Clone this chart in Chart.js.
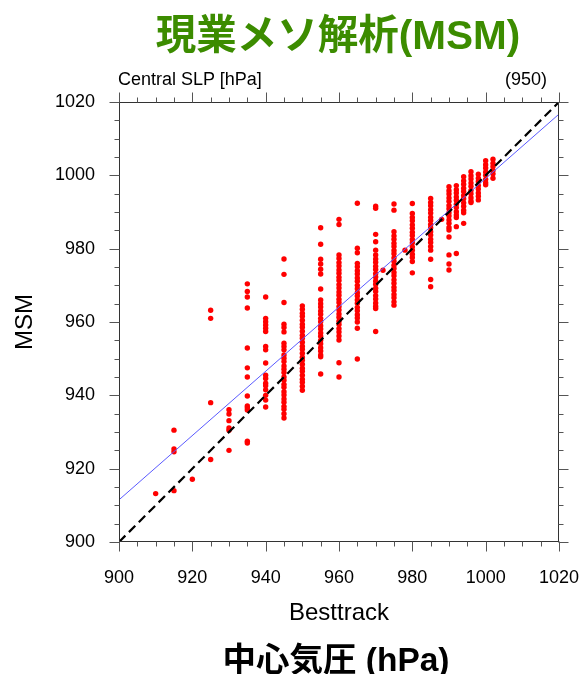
<!DOCTYPE html>
<html>
<head>
<meta charset="utf-8">
<script src="https://cdn.jsdelivr.net/npm/chart.js@4.4.1/dist/chart.umd.min.js"></script>
<style>
  html, body { margin: 0; padding: 0; background: #fff; }
  #wrap { position: relative; width: 582px; height: 674px; overflow: hidden; }
  #c { position: absolute; left: 0; top: 0; }
  .t { position: absolute; white-space: nowrap; line-height: 1; }
  #title { left: 0; width: 676px; text-align: center; top: 2px; font: bold 40.5px "Liberation Sans", "Noto Sans CJK JP", sans-serif; color: #3c8c00; }
  #bottom { left: 0; width: 672px; text-align: center; top: 632px; font: bold 33.5px "Liberation Sans", "Noto Sans CJK JP", sans-serif; color: #000; }
  #left { left: 118px; top: 69px; font: 18px "Liberation Sans", sans-serif; color: #000; }
  #right { right: 35px; top: 69px; font: 18px "Liberation Sans", sans-serif; color: #000; }
</style>
</head>
<body>
<div id="wrap">
  <canvas id="c" width="582" height="674"></canvas>
  <div class="t" id="title">現業メソ解析(MSM)</div>
  <div class="t" id="left">Central SLP [hPa]</div>
  <div class="t" id="right">(950)</div>
  <div class="t" id="bottom">中心気圧 (hPa)</div>
</div>
<script>
// ---- data ----
const besttrack = [910, 915, 920, 925, 930, 935, 940, 945, 950, 955, 960, 965, 970, 972, 975, 978, 980, 985, 988, 990, 992, 994, 996, 998, 1000, 1002];
const msm = [
  [913.2],
  [930.5, 925.4, 924.6, 914.0],
  [917.1],
  [963.2, 961.0, 938.0, 922.5],
  [936.1, 934.9, 933.1, 931.1, 930.5, 925.0],
  [970.4, 968.3, 966.8, 963.8, 952.9, 947.5, 945.0, 939.8, 937.1, 936.6, 936.0, 927.5, 927.0],
  [966.8, 961.0, 960.1, 959.2, 958.3, 957.4, 953.3, 952.4, 948.8, 945.5, 944.6, 943.3, 942.6, 941.5, 940.0, 938.7, 936.8],
  [977.2, 973.0, 965.3, 959.4, 958.5, 957.3, 954.2, 953.3, 952.4, 951.0, 950.1, 949.2, 948.0, 947.1, 946.2, 945.0, 944.1, 943.0, 942.2, 941.0, 940.1, 939.0, 938.1, 937.0, 936.2, 935.0, 933.8],
  [964.4, 963.5, 962.4, 961.6, 960.5, 959.4, 958.6, 957.5, 956.4, 955.6, 954.5, 953.4, 952.6, 951.5, 950.4, 949.6, 948.5, 947.4, 946.6, 945.5, 944.4, 943.6, 942.5, 941.4],
  [985.7, 981.2, 977.1, 975.8, 974.4, 973.1, 969.0, 966.0, 965.0, 964.1, 963.0, 962.1, 961.0, 960.1, 959.0, 958.1, 957.0, 956.1, 955.0, 954.1, 953.0, 952.1, 951.0, 950.5, 945.8],
  [988.0, 986.6, 978.3, 977.3, 976.2, 975.3, 974.2, 973.3, 972.2, 971.3, 970.2, 969.3, 968.2, 967.3, 966.2, 965.3, 964.2, 963.3, 962.2, 961.3, 960.2, 959.3, 958.2, 957.3, 956.2, 955.1, 948.9, 945.0],
  [992.4, 980.1, 978.9, 976.0, 975.1, 974.0, 973.1, 972.0, 971.1, 970.0, 969.1, 968.0, 967.1, 966.0, 965.1, 964.0, 963.1, 962.0, 961.1, 960.0, 958.3, 949.9],
  [991.6, 991.0, 983.9, 981.9, 979.6, 978.3, 977.2, 976.3, 975.2, 974.3, 973.2, 972.3, 971.2, 970.3, 969.2, 968.3, 967.2, 966.3, 965.2, 964.3, 963.7, 957.4],
  [974.1],
  [992.2, 990.5, 984.6, 983.5, 982.6, 981.5, 980.6, 979.5, 978.6, 977.5, 976.6, 975.5, 974.6, 973.5, 972.6, 971.5, 970.6, 969.5, 968.6, 967.5, 966.6, 965.5, 964.6],
  [979.6],
  [992.3, 989.6, 988.5, 987.6, 986.5, 985.6, 984.5, 983.6, 982.5, 981.6, 980.5, 979.6, 978.5, 977.6, 976.5, 973.4],
  [993.7, 992.6, 991.7, 990.6, 989.7, 988.6, 987.7, 986.6, 985.7, 984.6, 983.7, 982.6, 981.7, 980.6, 979.6, 977.1, 971.6, 969.6],
  [988.0],
  [996.9, 995.8, 994.9, 993.8, 992.9, 991.8, 990.9, 989.8, 988.9, 987.8, 986.9, 985.8, 985.1, 983.2, 978.3, 975.8, 974.2],
  [997.2, 996.1, 995.2, 994.1, 993.2, 992.1, 991.2, 990.1, 989.2, 988.5, 986.0, 978.7],
  [999.6, 998.5, 997.6, 996.5, 995.6, 994.5, 993.6, 992.5, 991.6, 990.5, 989.8, 986.9],
  [1001.0, 999.9, 999.0, 997.9, 997.0, 995.9, 995.0, 993.9, 993.0, 992.6],
  [1000.3, 999.2, 998.3, 997.2, 996.3, 995.2, 994.3, 993.3],
  [1004.0, 1002.9, 1002.0, 1000.9, 1000.0, 998.9, 998.0, 997.4],
  [1004.4, 1003.3, 1002.4, 1001.3, 1000.4, 999.2]
];
const oneToOne = [[900, 900], [1020, 1020]];
const fitLine = [[900, 911.5], [1020, 1016.7]];
const axisMin = 900, axisMax = 1020, majorStep = 20, minorStep = 5;

// ---- build chart data ----
const scatterPts = [];
besttrack.forEach((bx, i) => msm[i].forEach(v => scatterPts.push({ x: bx, y: v })));
const toXY = arr => arr.map(p => ({ x: p[0], y: p[1] }));

const framePlugin = {
  id: 'frame',
  afterDraw(chart) {
    const { ctx, chartArea: a, scales } = chart;
    ctx.save();
    ctx.strokeStyle = '#333';
    ctx.lineWidth = 1;
    const L = Math.round(a.left) + 0.5, T = Math.round(a.top) + 0.5;
    const R = Math.round(a.right) - 0.5, B = Math.round(a.bottom) - 0.5;
    ctx.strokeRect(L, T, R - L, B - T);
    ctx.strokeStyle = '#555';
    for (let v = axisMin; v <= axisMax + 0.001; v += minorStep) {
      const major = (v - axisMin) % majorStep === 0;
      const len = major ? 10 : 5;
      const px = Math.round(scales.x.getPixelForValue(v)) + 0.5;
      const py = Math.round(scales.y.getPixelForValue(v)) + 0.5;
      ctx.beginPath();
      ctx.moveTo(px, B); ctx.lineTo(px, B + len);
      ctx.moveTo(px, T); ctx.lineTo(px, T - len);
      ctx.moveTo(L, py); ctx.lineTo(L - len, py);
      ctx.moveTo(R, py); ctx.lineTo(R + len, py);
      ctx.stroke();
    }
    ctx.restore();
  }
};

const tickFmt = v => String(v);

new Chart(document.getElementById('c'), {
  type: 'scatter',
  data: {
    datasets: [
      { type: 'line', label: '1:1', data: toXY(oneToOne), borderColor: '#000', borderWidth: 2.2, borderDash: [9, 5], pointRadius: 0, fill: false, order: 0 },
      { type: 'line', label: 'fit', data: toXY(fitLine), borderColor: '#5a5aff', borderWidth: 1, pointRadius: 0, fill: false, order: 1 },
      { label: 'MSM', data: scatterPts, backgroundColor: '#ff0000', borderWidth: 0, pointRadius: 2.7, order: 2 }
    ]
  },
  options: {
    responsive: false,
    animation: false,
    layout: { padding: { left: 0, right: 23, top: 102, bottom: 0 } },
    plugins: { legend: { display: false }, tooltip: { enabled: false } },
    scales: {
      x: {
        type: 'linear', min: axisMin, max: axisMax,
        afterFit: s => { s.height = 132; s.paddingLeft = 0; s.paddingRight = 0; },
        grid: { display: true, drawOnChartArea: false, drawTicks: false },
        border: { display: false },
        ticks: { stepSize: majorStep, padding: 25, color: '#000', callback: tickFmt, font: { family: 'Liberation Sans', size: 18 } },
        title: { display: true, text: 'Besttrack', color: '#000', font: { family: 'Liberation Sans', size: 24 }, padding: { top: 0, bottom: 46 } }
      },
      y: {
        type: 'linear', min: axisMin, max: axisMax,
        afterFit: s => { s.width = 119; s.paddingTop = 0; s.paddingBottom = 0; },
        grid: { display: true, drawOnChartArea: false, drawTicks: false },
        border: { display: false },
        ticks: { stepSize: majorStep, padding: 24, color: '#000', callback: tickFmt, font: { family: 'Liberation Sans', size: 18 } },
        title: { display: true, text: 'MSM', color: '#000', font: { family: 'Liberation Sans', size: 24 }, padding: { top: 10.6, bottom: 0 } }
      }
    }
  },
  plugins: [framePlugin]
});
</script>
</body>
</html>
